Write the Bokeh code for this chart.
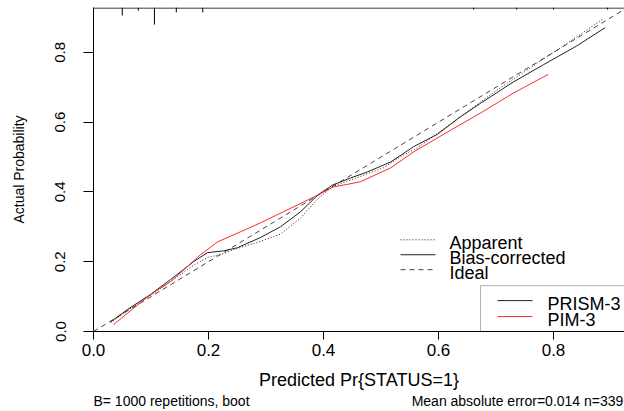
from bokeh.plotting import figure
from bokeh.models import (Range1d, FixedTicker, Span, BoxAnnotation, LinearAxis,
                          PrintfTickFormatter)
from bokeh.core.properties import value
from bokeh.embed import file_html
from bokeh.resources import INLINE

# ---- data ----
ticks = [0.0, 0.2, 0.4, 0.6, 0.8]

# PRISM-3 bias-corrected (solid black)
prism_bias_x = [0.03, 0.059, 0.099, 0.134, 0.174, 0.198, 0.226, 0.25, 0.29, 0.325, 0.36, 0.39,
                0.416, 0.447, 0.476, 0.517, 0.557, 0.598, 0.638, 0.673, 0.73, 0.783, 0.84, 0.89]
prism_bias_y = [0.028, 0.063, 0.106, 0.149, 0.2, 0.226, 0.231, 0.24, 0.269, 0.3, 0.343, 0.391,
                0.42, 0.44, 0.457, 0.486, 0.53, 0.565, 0.615, 0.654, 0.715, 0.765, 0.818, 0.871]

# PRISM-3 apparent (dotted black)
prism_app_x = [0.03, 0.059, 0.099, 0.134, 0.174, 0.2, 0.22, 0.25, 0.29, 0.325, 0.36, 0.39,
               0.416, 0.447, 0.504, 0.539, 0.563, 0.6, 0.65, 0.7, 0.75, 0.8, 0.85, 0.887]
prism_app_y = [0.025, 0.06, 0.103, 0.143, 0.19, 0.213, 0.22, 0.238, 0.258, 0.279, 0.325, 0.38,
               0.416, 0.434, 0.469, 0.506, 0.526, 0.57, 0.63, 0.69, 0.745, 0.8, 0.855, 0.897]

# PIM-3 (red)
pim_x = [0.035, 0.099, 0.134, 0.186, 0.216, 0.256, 0.29, 0.33, 0.39, 0.417, 0.464, 0.517,
         0.557, 0.616, 0.673, 0.73, 0.791]
pim_y = [0.02, 0.106, 0.143, 0.22, 0.257, 0.286, 0.311, 0.343, 0.391, 0.414, 0.429, 0.469,
         0.515, 0.572, 0.626, 0.683, 0.737]

# Ideal line
ideal_x = [0.0, 0.93]
ideal_y = [0.0, 0.93]

# Distribution of predictions (rug at top), heights in probability units
rug_x = [0.05, 0.078, 0.106, 0.144, 0.19, 0.661, 0.736, 0.8, 0.894]
rug_h = [0.023, 0.009, 0.049, 0.014, 0.014, 0.006, 0.006, 0.006, 0.006]

legend1_labels = ["Apparent", "Bias-corrected", "Ideal"]
legend2_labels = ["PRISM-3", "PIM-3"]
subtitle_left = "B= 1000 repetitions, boot"
subtitle_right = "Mean absolute error=0.014 n=339"

# ---- layout ----
FONT = "Liberation Sans"
W, H = 624, 411
FL, FT, FB = 93, 7, 332          # frame left / top / bottom in pixels
PX_X = 575.0                      # pixels per unit on x
PX_Y = 350.0                      # pixels per unit on y
X_END = (W - FL) / PX_X
Y_END = (FB - FT) / PX_Y


def dx(px):  # pixel column -> x data
    return (px - FL) / PX_X


def dy(py):  # pixel row -> y data
    return (FB - py) / PX_Y


p = figure(width=W, height=H, output_backend="svg", toolbar_location=None,
           x_range=Range1d(0, X_END), y_range=Range1d(0, Y_END),
           min_border_left=FL, min_border_right=0, min_border_top=FT,
           min_border_bottom=H - FB)
p.outline_line_color = None
p.grid.visible = False
p.background_fill_color = "white"
p.border_fill_color = "white"

for ax in (p.xaxis[0], p.yaxis[0]):
    ax.ticker = FixedTicker(ticks=ticks)
    ax.formatter = PrintfTickFormatter(format="%.1f")
    ax.minor_tick_line_color = None
    ax.major_tick_in = 0
    ax.axis_line_color = "black"
    ax.major_tick_line_color = "black"
    ax.major_label_text_font = FONT
    ax.major_label_text_color = "black"
    ax.axis_label_text_font = FONT
    ax.axis_label_text_font_style = "normal"
    ax.axis_label_text_color = "black"

p.xaxis.major_tick_out = 8
p.xaxis.major_label_text_font_size = "17px"
p.xaxis.major_label_standoff = 4
p.xaxis.axis_label = "Predicted Pr{STATUS=1}"
p.xaxis.axis_label_text_font_size = "18px"
p.xaxis.axis_label_standoff = 11

p.yaxis.major_tick_out = 10
p.yaxis.major_label_orientation = "vertical"
p.yaxis.major_label_text_font_size = "15px"
p.yaxis.major_label_standoff = 18
p.yaxis.axis_label = "Actual Probability"
p.yaxis.axis_label_text_font_size = "14px"
p.yaxis.axis_label_standoff = 26

# sub-titles under the x axis, drawn as labels of an extra bare axis
c_left = dx(FL + 78)
c_right = dx(517)
sub_axis = LinearAxis(ticker=FixedTicker(ticks=[c_left, c_right]),
                      major_label_overrides={c_left: subtitle_left, c_right: subtitle_right},
                      axis_line_color=None, major_tick_line_color=None,
                      minor_tick_line_color=None, major_tick_out=0, major_tick_in=0,
                      major_label_standoff=0, major_label_text_font=FONT,
                      major_label_text_font_size="14px", major_label_text_color="black")
p.add_layout(sub_axis, "below")

# top frame line
p.add_layout(Span(location=Y_END - 0.0015, dimension="width", line_color="black", line_width=1))

# rug of predictions along the top
p.segment(x0=rug_x, y0=[Y_END] * len(rug_x), x1=rug_x, y1=[Y_END - h for h in rug_h],
          line_color="black", line_width=1)

# curves
DASH_IDEAL, DASH_APP = "5 4", "1 2"
C_BLACK, C_GREY, C_RED = "#222222", "#444444", "#ff2a2a"
p.line(ideal_x, ideal_y, line_color=C_GREY, line_width=1, line_dash=DASH_IDEAL)
p.line(prism_app_x, prism_app_y, line_color=C_BLACK, line_width=1, line_dash=DASH_APP)
p.line(prism_bias_x, prism_bias_y, line_color=C_BLACK, line_width=1)
p.line(pim_x, pim_y, line_color=C_RED, line_width=1)

TEXT_SHIFT = 3  # text centre sits a little below its legend line

# legend 1 (line types), no box
l1_rows = [240, 255, 270]
l1_styles = [(C_BLACK, DASH_APP), (C_BLACK, "solid"), (C_GREY, DASH_IDEAL)]
for row, lab, (col, dash) in zip(l1_rows, legend1_labels, l1_styles):
    p.line([dx(400), dx(435)], [dy(row), dy(row)], line_color=col, line_width=1, line_dash=dash)
    p.text(x=[dx(449)], y=[dy(row + TEXT_SHIFT)], text=[lab], text_font=value(FONT),
           text_font_size="18px", text_color="black", text_baseline="middle", text_align="left")

# legend 2 (models), boxed, running off the right edge
p.add_layout(BoxAnnotation(left=dx(480), right=X_END + 0.1, bottom=0.0, top=dy(286),
                           fill_alpha=0, line_color="black", line_width=1))
l2_rows = [301, 317]
l2_cols = [C_BLACK, C_RED]
for row, lab, col in zip(l2_rows, legend2_labels, l2_cols):
    p.line([dx(497), dx(532)], [dy(row), dy(row)], line_color=col, line_width=1)
    p.text(x=[dx(547)], y=[dy(row + TEXT_SHIFT)], text=[lab], text_font=value(FONT),
           text_font_size="18px", text_color="black", text_baseline="middle", text_align="left")

open("out.html", "w").write(file_html(p, INLINE))
